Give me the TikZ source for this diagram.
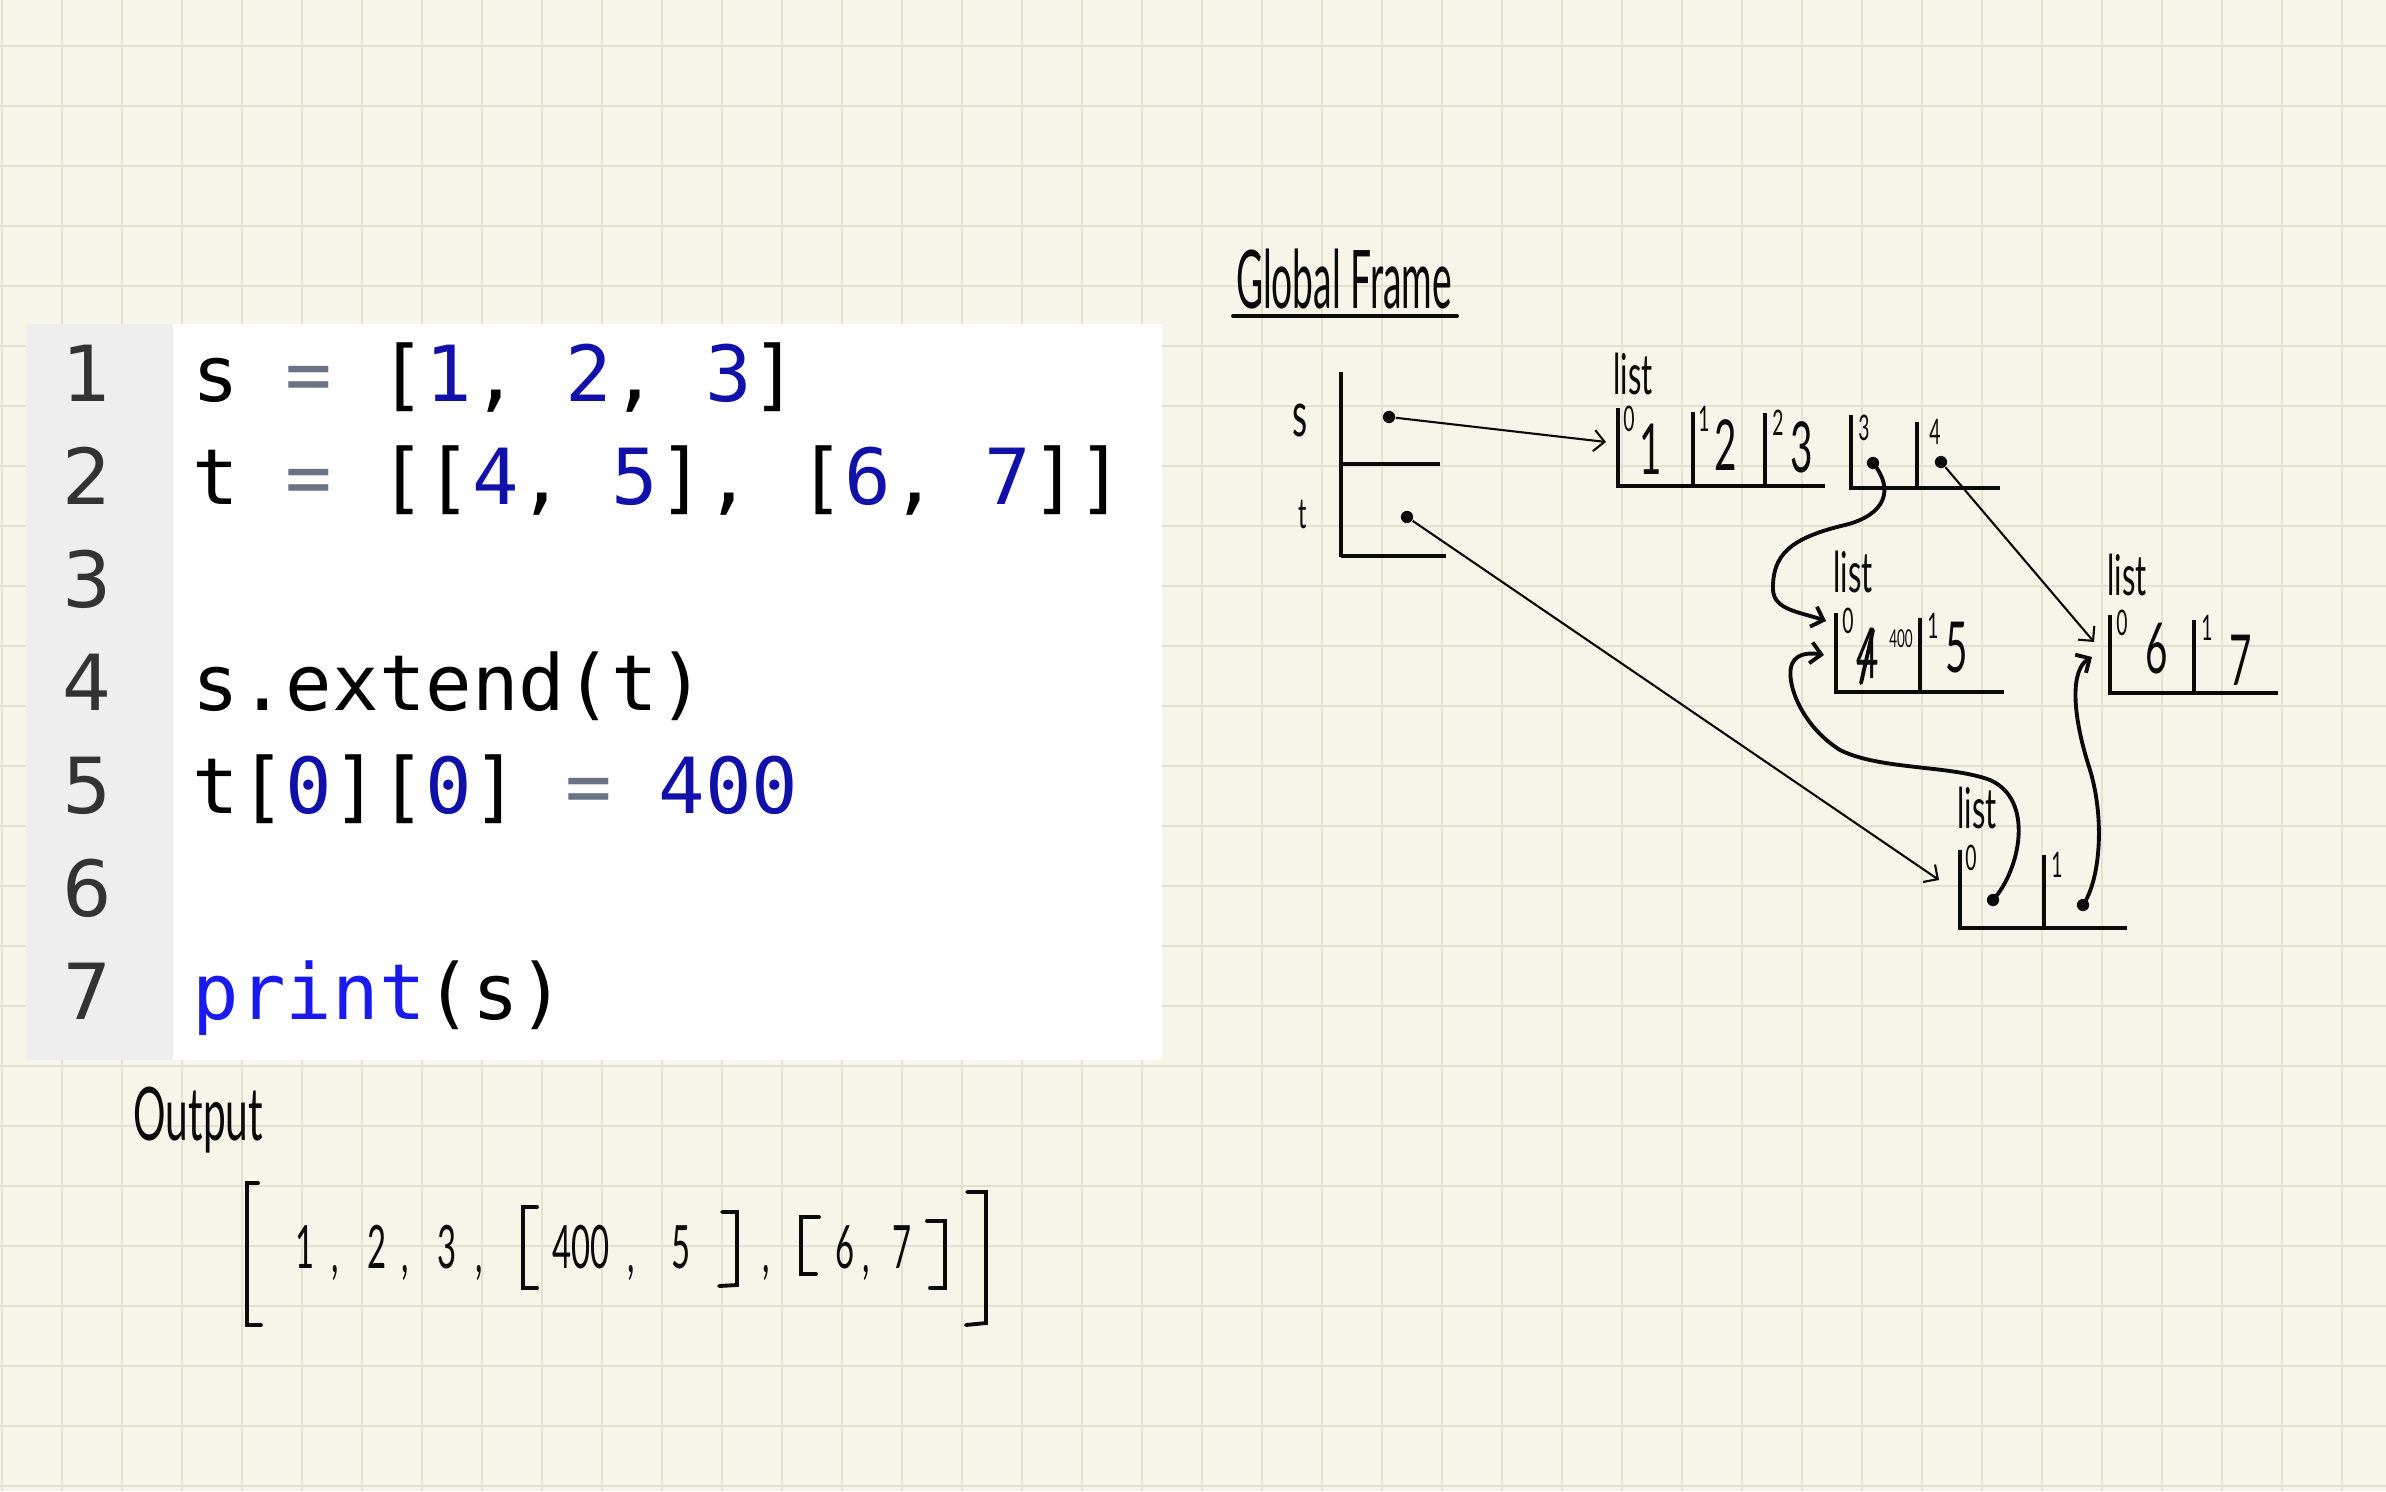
\documentclass[tikz,border=0pt]{standalone}
\usepackage{fontspec}
\usepackage{xcolor}
\usetikzlibrary{arrows.meta}
\newfontfamily\codefont{DejaVu Sans Mono}
\newfontfamily\linenofont{DejaVu Sans}
\newfontfamily\handfont[FakeStretch=0.55]{Lato}
\newfontfamily\handnarrow[FakeStretch=0.46]{Lato}
\definecolor{paper}{RGB}{247,245,234}
\definecolor{gridc}{RGB}{228,224,210}
\definecolor{gutter}{RGB}{238,238,238}
\definecolor{numblue}{RGB}{17,17,170}
\definecolor{kwblue}{RGB}{25,25,240}
\definecolor{opgray}{RGB}{106,115,131}
\definecolor{lnc}{RGB}{51,51,51}
\definecolor{ink}{RGB}{10,10,10}
\newcommand{\num}[1]{\textcolor{numblue}{#1}}
\newcommand{\opeq}{\textcolor{opgray}{=}}
\newcommand{\handat}[1]{\handfont\fontsize{#1}{#1}\selectfont}

\begin{document}
\begin{tikzpicture}[x=0.01cm,y=-0.01cm,
    gridline/.style={draw=gridc,line width=0.8pt},
    cellline/.style={draw=ink,line width=0.9pt},
    inkline/.style={draw=ink,line width=1.1pt,line cap=round},
    ptr/.style={circle,fill=ink,inner sep=0pt,minimum size=3.5pt},
    ptrarrow/.style={draw=ink,line width=0.6pt,-{Straight Barb[length=3pt,width=6pt]}},
    curvearrow/.style={draw=ink,line width=1.1pt,-{Straight Barb[length=3pt,width=6pt]}},
    hand/.style={inner sep=0pt,text=ink},
    listlabel/.style={hand,font={\handat{16pt}}},
    idx/.style={hand,font={\handat{10pt}}},
    val/.style={hand,anchor=base,font={\handat{20pt}}},
    outval/.style={hand,anchor=base,font={\handat{17pt}}},
    codeline/.style={inner sep=0pt,anchor=base west,font={\codefont\fontsize{22pt}{26pt}\selectfont}},
    lineno/.style={inner sep=0pt,anchor=base,text=lnc,font={\linenofont\fontsize{22pt}{26pt}\selectfont}}]
        \useasboundingbox (0,0) rectangle (2386,1491);
        \fill[paper] (0,0) rectangle (2386,1491);
        \foreach \gx in {2,62,...,2386} \draw[gridline] (\gx,0) -- (\gx,1491);
        \foreach \gy in {46,106,...,1491} \draw[gridline] (0,\gy) -- (2386,\gy);

        % code panel
        \fill[white] (26,324) rectangle (1162,1060);
        \fill[gutter] (26,324) rectangle (173,1060);
        \foreach \n in {1,...,7}
        \node[lineno] (ln\n) at (87,{298+103*\n}) {\n};
        \foreach \y/\code [count=\k] in {401/{s \opeq{} [\num{1}, \num{2}, \num{3}]},
            504/{t \opeq{} [[\num{4}, \num{5}], [\num{6}, \num{7}]]},
            710/{s.extend(t)},
            813/{t[\num{0}][\num{0}] \opeq{} \num{400}},
            1019/{\textcolor{kwblue}{print}(s)}}
        \node[codeline] (code\k) at (192,\y) {\code};

        % global frame
        \node[hand,font={\handnarrow\fontsize{23pt}{23pt}\selectfont}] (gf) at (1344,279) {Global Frame};
        \draw[inkline] (1233,316) -- (1457,316);
        \draw[cellline] (1341,372) -- (1341,557);
        \draw[cellline] (1341,464) -- (1440,464);
        \draw[cellline] (1341,556) -- (1446,556);
        \node[hand,anchor=base,font={\handat{18pt}}] (vs) at (1300,436) {s};
        \node[hand,anchor=base,font={\handat{12pt}}] (vt) at (1303,528) {t};
        \node[ptr] (sdot) at (1389,417) {};
        \node[ptr] (tdot) at (1407,517) {};

        % list s
        \node[listlabel] (l1lab) at (1633,374) {list};
        \draw[cellline] (1618,408) -- (1618,486) -- (1825,486);
        \draw[cellline] (1693,412) -- (1693,486);
        \draw[cellline] (1765,413) -- (1765,486);
        \draw[cellline] (1851,415) -- (1851,488) -- (2000,488);
        \draw[cellline] (1917,422) -- (1917,488);
        \foreach \i/\ix/\iy in {0/1629/419, 1/1704/419, 2/1778/423, 3/1864/428, 4/1935/432}
        \node[idx] (l1i\i) at (\ix,\iy) {\i};
        \foreach \v/\vx/\vy in {1/1651/474, 2/1726/470, 3/1802/472}
        \node[val] (l1v\v) at (\vx,\vy) {\v};
        \node[ptr] (l1d3) at (1873,463) {};
        \node[ptr] (l1d4) at (1941,462) {};

        % list [4, 5]
        \node[listlabel] (l45lab) at (1853,572) {list};
        \draw[cellline] (1836,613) -- (1836,692) -- (2004,692);
        \draw[cellline] (1920,618) -- (1920,692);
        \node[idx] (l45i0) at (1848,621) {0};
        \node[idx] (l45i1) at (1933,626) {1};
        \node[val] (l45v4) at (1868,678) {4};
        \draw[inkline] (1873,630) -- (1861,683);
        \node[hand,font={\handat{7pt}}] (l45new) at (1901,639) {400};
        \node[val] (l45v5) at (1957,672) {5};

        % list [6, 7]
        \node[listlabel] (l67lab) at (2127,575) {list};
        \draw[cellline] (2110,615) -- (2110,693) -- (2278,693);
        \draw[cellline] (2194,620) -- (2194,693);
        \node[idx] (l67i0) at (2122,623) {0};
        \node[idx] (l67i1) at (2207,628) {1};
        \node[val] (l67v6) at (2157,673) {6};
        \node[val] (l67v7) at (2241,685) {7};

        % list t
        \node[listlabel] (ltlab) at (1977,808) {list};
        \draw[cellline] (1960,850) -- (1960,928) -- (2127,928);
        \draw[cellline] (2044,855) -- (2044,928);
        \node[idx] (lti0) at (1971,858) {0};
        \node[idx] (lti1) at (2057,865) {1};
        \node[ptr] (ltd0) at (1993,900) {};
        \node[ptr] (ltd1) at (2083,905) {};

        % pointers
        \coordinate (l1in) at (1606,442);
        \coordinate (ltin) at (1939,880);
        \coordinate (l67ina) at (2094,642);
        \coordinate (l67inb) at (2092,657);
        \coordinate (l45ina) at (1826,621);
        \coordinate (l45inb) at (1824,655);
        \draw[ptrarrow] (sdot) -- (l1in);
        \draw[ptrarrow] (tdot) -- (ltin);
        \draw[ptrarrow] (l1d4) -- (l67ina);
        \draw[curvearrow] (l1d3.center) .. controls (1895,490) and (1885,515) .. (1845,525)
            .. controls (1790,538) and (1772,555) .. (1773,590)
            .. controls (1774,610) and (1800,612) .. (l45ina);
        \draw[curvearrow] (ltd0.center) .. controls (2020,870) and (2035,800) .. (1990,780)
            .. controls (1950,765) and (1880,770) .. (1840,750)
            .. controls (1800,725) and (1785,680) .. (1792,664)
            .. controls (1797,652) and (1812,653) .. (l45inb);
        \draw[curvearrow] (ltd1.center) .. controls (2100,880) and (2105,820) .. (2090,770)
            .. controls (2072,715) and (2070,670) .. (l67inb);

        % output
        \node[hand,anchor=base west,font={\handat{21pt}}] (outlab) at (133,1140) {Output};
        \draw[inkline] (258,1183) -- (247,1183) -- (247,1325) -- (261,1325);
        \draw[inkline] (967,1192) -- (986,1192) -- (986,1323) -- (966,1325);
        \draw[inkline] (537,1207) -- (523,1207) -- (523,1288) -- (537,1288);
        \draw[inkline] (722,1212) -- (737,1212) -- (737,1285) -- (719,1286);
        \draw[inkline] (819,1217) -- (801,1217) -- (801,1274) -- (816,1274);
        \draw[inkline] (927,1221) -- (945,1221) -- (945,1288) -- (930,1288);
        \foreach \v/\vx in {1/305, 2/377, 3/447, 400/581, 5/681, 6/845, 7/902}
        \node[outval] (out\v) at (\vx,1268) {\v};
        \foreach \cx [count=\c] in {335,405,479,631,766,866}
        \node[outval] (comma\c) at (\cx,1272) {,};
\end{tikzpicture}
\end{document}
